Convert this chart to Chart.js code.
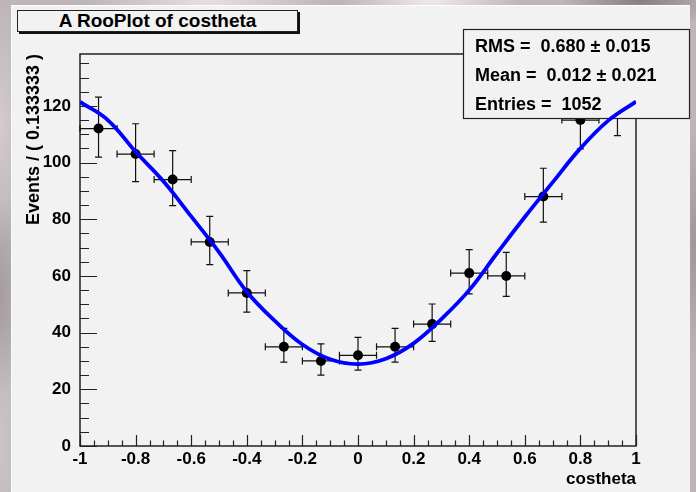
<!DOCTYPE html>
<html>
<head>
<meta charset="utf-8">
<script src="https://cdn.jsdelivr.net/npm/chart.js@4.4.1/dist/chart.umd.min.js"></script>
<style>
  html, body { margin:0; padding:0; }
  body {
    width:696px; height:492px; position:relative; overflow:hidden;
    background:
      radial-gradient(ellipse 120px 40px at 30% 0%, rgba(235,228,232,0.9), transparent),
      radial-gradient(ellipse 90px 30px at 62% 0%, rgba(245,240,242,0.9), transparent),
      radial-gradient(ellipse 80px 30px at 92% 0%, rgba(120,112,116,0.8), transparent),
      radial-gradient(ellipse 30px 120px at 0% 25%, rgba(215,205,210,0.9), transparent),
      radial-gradient(ellipse 30px 100px at 0% 60%, rgba(160,150,154,0.8), transparent),
      radial-gradient(ellipse 30px 120px at 0% 90%, rgba(205,198,200,0.9), transparent),
      radial-gradient(ellipse 30px 120px at 100% 50%, rgba(150,142,146,0.8), transparent),
      #bdb5b7;
    font-family: "Liberation Sans", Arial, sans-serif;
  }
  #panel { position:absolute; left:11px; top:5px; width:679px; height:487px; background:#f2f2f2; border-top:1px solid #fff; border-left:1px solid #fafafa; box-sizing:border-box; }
  #titlebox { position:absolute; left:17px; top:10px; width:281px; height:22px; box-sizing:border-box; border:1px solid #222; box-shadow:2px 2px 0 #111; background:#f2f2f2; font-weight:bold; font-size:19px; line-height:20px; text-align:center; color:#000; }
  canvas { position:absolute; left:0; top:0; }
</style>
</head>
<body>
<div id="panel"></div>
<div id="titlebox">A RooPlot of costheta</div>
<canvas id="c" width="696" height="492"></canvas>
<script>
// ---- data ----
const binCenters = [-0.9333, -0.8, -0.6667, -0.5333, -0.4, -0.2667, -0.1333, 0, 0.1333, 0.2667, 0.4, 0.5333, 0.6667, 0.8, 0.9333];
const events     = [112, 103, 94, 72, 54, 35, 30, 32, 35, 43, 61, 60, 88, 115, 120];
const errLow     = [10.1, 9.7, 9.2, 8.0, 6.8, 5.4, 5.0, 5.2, 5.4, 6.1, 7.3, 7.2, 9.0, 10.2, 10.5];
const errHigh    = [11.1, 10.7, 10.2, 9.0, 7.9, 6.5, 6.0, 6.3, 6.5, 7.1, 8.3, 8.3, 10.0, 11.2, 11.5];
const binHalfWidth = 0.0667;

const curveX = [-1.0, -0.9, -0.8, -0.7, -0.6, -0.5, -0.4, -0.3, -0.2, -0.1, 0.0, 0.1, 0.2, 0.3, 0.4, 0.5, 0.6, 0.7, 0.8, 0.9, 1.0];
const curveY = [121.4, 115.0, 103.8, 93.4, 81.0, 68.4, 54.4, 44.2, 35.8, 30.6, 28.9, 30.8, 36.2, 44.8, 55.0, 68.0, 80.8, 93.0, 105.0, 114.8, 121.5];

const xTitle = "costheta";
const yTitle = "Events / ( 0.133333 )";
const statsLines = ["RMS =  0.680 \u00b1 0.015", "Mean =  0.012 \u00b1 0.021", "Entries =  1052"];

const xMin = -1, xMax = 1, xStep = 0.2, xMinor = 0.05;
const yMin = 0, yMax = 138.3, yStep = 20, yMinor = 5;

// ---- chart ----
const FONT = '"Liberation Sans", Arial, sans-serif';

const rootPlugin = {
  id: 'rootStyle',
  beforeDatasetsDraw(chart) {
    const {ctx, chartArea:a, scales:{x, y}} = chart;
    ctx.save();
    ctx.strokeStyle = '#222';
    ctx.lineWidth = 1.5;
    ctx.strokeRect(a.left, a.top, a.right - a.left, a.bottom - a.top);
    ctx.lineWidth = 1.2;
    ctx.beginPath();
    for (let v = yMin; v <= yMax + 1e-9; v += yMinor) {
      const py = Math.round(y.getPixelForValue(v)) + 0.5;
      const major = Math.abs(v / yStep - Math.round(v / yStep)) < 1e-6;
      ctx.moveTo(a.left, py); ctx.lineTo(a.left + (major ? 17 : 9), py);
    }
    for (let i = 0; i <= Math.round((xMax - xMin) / xMinor); i++) {
      const v = xMin + i * xMinor;
      const px = Math.round(x.getPixelForValue(v)) + 0.5;
      const major = (i % Math.round(xStep / xMinor)) === 0;
      ctx.moveTo(px, a.bottom); ctx.lineTo(px, a.bottom - (major ? 11 : 5.5));
    }
    ctx.stroke();
    ctx.fillStyle = '#000';
    ctx.font = 'bold 17px ' + FONT;
    ctx.textAlign = 'right'; ctx.textBaseline = 'middle';
    ctx.fillText(xTitle, a.right, 479);
    ctx.translate(34, a.top);
    ctx.rotate(-Math.PI / 2);
    ctx.font = 'bold 18px ' + FONT;
    ctx.textAlign = 'right';
    ctx.fillText(yTitle, 0, 0);
    ctx.restore();
  },
  beforeDatasetDraw(chart, args) {
    if (args.index !== 0) return;
    const {ctx, scales:{x, y}} = chart;
    ctx.save();
    ctx.strokeStyle = '#111';
    ctx.lineWidth = 1.2;
    ctx.beginPath();
    for (let i = 0; i < binCenters.length; i++) {
      const px = x.getPixelForValue(binCenters[i]);
      const py = y.getPixelForValue(events[i]);
      const pyL = y.getPixelForValue(events[i] - errLow[i]);
      const pyH = y.getPixelForValue(events[i] + errHigh[i]);
      const pxL = x.getPixelForValue(binCenters[i] - binHalfWidth);
      const pxH = x.getPixelForValue(binCenters[i] + binHalfWidth);
      ctx.moveTo(px, pyL); ctx.lineTo(px, pyH);
      ctx.moveTo(px - 3.5, pyL); ctx.lineTo(px + 3.5, pyL);
      ctx.moveTo(px - 3.5, pyH); ctx.lineTo(px + 3.5, pyH);
      ctx.moveTo(pxL, py); ctx.lineTo(pxH, py);
      ctx.moveTo(pxL, py - 3.5); ctx.lineTo(pxL, py + 3.5);
      ctx.moveTo(pxH, py - 3.5); ctx.lineTo(pxH, py + 3.5);
    }
    ctx.stroke();
    ctx.restore();
  },
  afterDatasetDraw(chart, args) {
    if (args.index !== 0) return;
    const {ctx} = chart;
    ctx.save();
    const bx = 463, by = 29, bw = 226, bh = 89;
    ctx.fillStyle = '#f2f2f2';
    ctx.fillRect(bx, by, bw, bh);
    ctx.strokeStyle = '#222';
    ctx.lineWidth = 1.2;
    ctx.strokeRect(bx + 0.5, by + 0.5, bw, bh);
    ctx.fillStyle = '#000';
    ctx.font = 'bold 18px ' + FONT;
    ctx.textAlign = 'left'; ctx.textBaseline = 'middle';
    const ys = [47.5, 76.3, 105];
    statsLines.forEach((t, i) => ctx.fillText(t, 475, ys[i]));
    ctx.restore();
  }
};

new Chart(document.getElementById('c'), {
  type: 'scatter',
  data: {
    datasets: [
      {
        label: 'data',
        data: binCenters.map((v, i) => ({x: v, y: events[i]})),
        pointRadius: 5,
        pointBackgroundColor: '#000',
        pointBorderColor: '#000',
        pointBorderWidth: 0,
        showLine: false,
        order: 1
      },
      {
        label: 'fit',
        data: curveX.map((v, i) => ({x: v, y: curveY[i]})),
        showLine: true,
        borderColor: '#0000ff',
        borderWidth: 3.8,
        pointRadius: 0,
        tension: 0.4,
        fill: false,
        order: 0
      }
    ]
  },
  options: {
    responsive: false,
    animation: false,
    events: [],
    layout: { padding: { left: 0, top: 54, right: 60, bottom: 0 } },
    plugins: { legend: { display: false }, tooltip: { enabled: false }, title: { display: false } },
    scales: {
      x: {
        type: 'linear', min: xMin, max: xMax,
        afterFit(s) { s.height = 46; },
        grid: { display: false, drawTicks: false },
        border: { display: false },
        ticks: { stepSize: xStep, padding: 3, color: '#000', font: { family: FONT, size: 17, weight: 'bold' }, maxRotation: 0, autoSkip: false,
                 callback: v => String(Number(v.toFixed(2))) }
      },
      y: {
        type: 'linear', min: yMin, max: yMax,
        afterFit(s) { s.width = 80; },
        grid: { display: false, drawTicks: false },
        border: { display: false },
        ticks: { stepSize: yStep, includeBounds: false, padding: 9, color: '#000', font: { family: FONT, size: 17, weight: 'bold' } }
      }
    }
  },
  plugins: [rootPlugin]
});
</script>
</body>
</html>
